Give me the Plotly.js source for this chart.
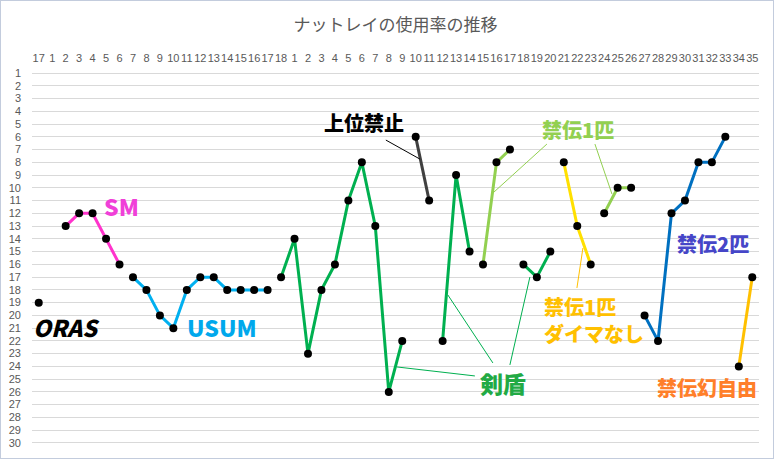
<!DOCTYPE html>
<html>
<head>
<meta charset="utf-8">
<script src="https://cdn.plot.ly/plotly-3.0.1.min.js"></script>
<style>
  html, body { margin: 0; padding: 0; background: #fff; }
  #wrap { position: relative; width: 774px; height: 459px; }
  #chart { width: 774px; height: 459px; }
  #frame { position: absolute; left: 0; top: 0; width: 774px; height: 459px; box-sizing: border-box;
           border: 1px solid #C3CCDD; pointer-events: none; }
</style>
</head>
<body>
<div id="wrap"><div id="chart"></div><div id="frame"></div></div>
<script>
// ---- data ----
const tickLabels = ['17',
  '1','2','3','4','5','6','7','8','9','10','11','12','13','14','15','16','17','18',
  '1','2','3','4','5','6','7','8','9','10','11','12','13','14','15','16','17','18','19','20',
  '21','22','23','24','25','26','27','28','29','30','31','32','33','34','35'];

const ranks = [19,
  null, 13, 12, 12, 14, 16, 17, 18, 20, 21, 18, 17, 17, 18, 18, 18, 18, 17,
  14, 23, 18, 16, 11, 8, 13, 26, 22, 6, 11, 22, 9, 15, 16, 8, 7, 16, 17, 15,
  8, 13, 16, 12, 10, 10, 20, 22, 12, 11, 8, 8, 6, 24, 17];

const regulation = ['ORAS',
  null, 'SM', 'SM', 'SM', 'SM', 'SM',
  'USUM', 'USUM', 'USUM', 'USUM', 'USUM', 'USUM', 'USUM', 'USUM', 'USUM', 'USUM', 'USUM',
  '剣盾', '剣盾', '剣盾', '剣盾', '剣盾', '剣盾', '剣盾', '剣盾', '剣盾', '剣盾',
  '上位禁止', '上位禁止',
  '剣盾', '剣盾', '剣盾',
  '禁伝1匹', '禁伝1匹', '禁伝1匹',
  '剣盾', '剣盾', '剣盾',
  'ダイマなし', 'ダイマなし', 'ダイマなし',
  '禁伝1匹', '禁伝1匹', '禁伝1匹',
  '禁伝2匹', '禁伝2匹', '禁伝2匹', '禁伝2匹', '禁伝2匹', '禁伝2匹', '禁伝2匹',
  '禁伝幻自由', '禁伝幻自由'];

const yTicks = Array.from({length: 30}, (_, i) => i + 1);

// ---- styles ----
const lineColors = {
  'ORAS': '#000000', 'SM': '#FF33CC', 'USUM': '#00B0F0', '剣盾': '#00B050',
  '上位禁止': '#404040', '禁伝1匹': '#92D050', 'ダイマなし': '#FFE000',
  '禁伝2匹': '#0070C0', '禁伝幻自由': '#FFC000'
};

const idx = tickLabels.map((_, i) => i);

// build one trace per contiguous run of the same regulation
const traces = [];
let cur = null;
for (let i = 0; i < ranks.length; i++) {
  const r = regulation[i];
  if (r === null || ranks[i] === null) { cur = null; continue; }
  if (!cur || cur.reg !== r) {
    cur = { reg: r, x: [], y: [] };
    traces.push(cur);
  }
  cur.x.push(idx[i]);
  cur.y.push(ranks[i]);
}
const data = traces.map(t => ({
  type: 'scatter',
  mode: 'lines+markers',
  x: t.x, y: t.y,
  line: { color: lineColors[t.reg], width: 3 },
  marker: { color: '#000000', size: 8 },
  hoverinfo: 'skip',
  showlegend: false
}));

// pixel -> paper helpers for callouts
const L = 32.3, T = 67.9, W = 726.7, H = 380.2;
const px = v => (v - L) / W;
const py = v => 1 - (v - T) / H;

const lbl = (text, x, y, color, size, extra) => Object.assign({
  text, x: px(x), y: py(y), xref: 'paper', yref: 'paper',
  xanchor: 'center', yanchor: 'middle', showarrow: false, borderpad: 0,
  font: { family: 'Noto Sans CJK JP', size, color, weight: 900 }
}, extra || {});

const annotations = [
  lbl('ORAS', 67, 327, '#000000', 23, { font: { family: 'Noto Sans CJK JP', size: 23, color: '#000000', weight: 900, style: 'italic' } }),
  lbl('SM', 122, 206, '#F040D8', 23),
  lbl('USUM', 222, 327, '#00A8EC', 23),
  lbl('上位禁止', 364, 122, '#000000', 20),
  lbl('禁伝1匹', 578, 129, '#92D050', 20),
  lbl('禁伝2匹', 713, 243, '#4646C8', 20),
  lbl('禁伝1匹', 543, 307, '#FFC000', 20, { xanchor: 'left' }),
  lbl('ダイマなし', 543, 334, '#FFC000', 20, { xanchor: 'left' }),
  lbl('剣盾', 503, 383, '#22AA44', 23),
  lbl('禁伝幻自由', 707, 388, '#FF7F2A', 20)
];

const seg = (x0, y0, x1, y1, color) => ({
  type: 'line', xref: 'paper', yref: 'paper',
  x0: px(x0), y0: py(y0), x1: px(x1), y1: py(y1),
  line: { color, width: 1 }
});
const shapes = [
  seg(386, 140, 420, 159, '#000000'),
  seg(547, 144, 493, 193, '#92D050'),
  seg(595, 144, 612, 194, '#92D050'),
  seg(583, 248, 577, 288, '#FFC000'),
  seg(475, 376, 397, 367, '#00B050'),
  seg(493, 363, 448, 295, '#00B050'),
  seg(510, 365, 530, 277, '#00B050')
];

const layout = {
  width: 774, height: 459,
  margin: { l: 32.3, r: 774 - 32.3 - 726.7, t: 67.9, b: 459 - 67.9 - 380.2, pad: 0 },
  paper_bgcolor: '#ffffff', plot_bgcolor: '#ffffff',
  title: {
    text: 'ナットレイの使用率の推移',
    font: { family: 'Noto Sans CJK JP', size: 17, color: '#595959' },
    x: 0.5, xref: 'paper', xanchor: 'center',
    y: 1 - 25 / 459, yref: 'container', yanchor: 'middle'
  },
  xaxis: {
    range: [-0.5, 53.5], side: 'top',
    tickmode: 'array', tickvals: idx, ticktext: tickLabels,
    showgrid: false, zeroline: false, showline: false, ticks: '',
    tickfont: { family: 'Liberation Sans', size: 11, color: '#595959' },
    tickangle: 0, ticklabelstandoff: 3, fixedrange: true
  },
  yaxis: {
    range: [30.4, 0.6],
    tickmode: 'array', tickvals: yTicks, ticktext: yTicks.map(String),
    showgrid: true, gridcolor: '#D9D9D9', gridwidth: 1,
    zeroline: false, showline: false, ticks: '',
    tickfont: { family: 'Liberation Sans', size: 11, color: '#595959' },
    ticklabelstandoff: 10, fixedrange: true
  },
  annotations, shapes,
  hovermode: false
};

Plotly.newPlot('chart', data, layout, { staticPlot: true, displayModeBar: false });
</script>
</body>
</html>
